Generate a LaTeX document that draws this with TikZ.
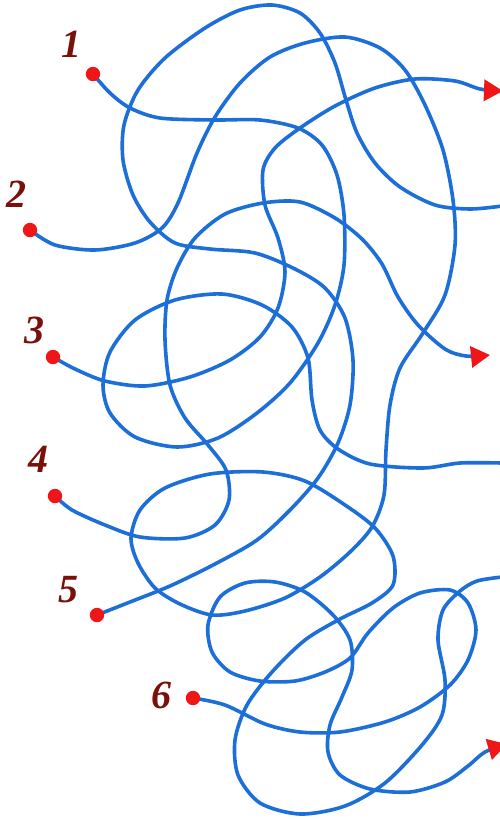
\documentclass[tikz,border=0pt]{standalone}
\usepackage{fontspec}
\newfontfamily\lblfont{Liberation Serif}
\usetikzlibrary{arrows.meta}
\definecolor{strandblue}{RGB}{28,110,216}
\definecolor{dotred}{RGB}{238,22,22}
\definecolor{labelred}{RGB}{122,16,10}
\tikzset{
  strand/.style={strandblue, line width=3.6pt, line cap=round, line join=round},
  tipped/.style={-{Triangle[length=19pt,width=21pt,color=dotred]}},
  lbl/.style={text=labelred, inner sep=0pt, font=\lblfont\fontsize{40}{40}\selectfont\bfseries\itshape},
  dotmark/.style={fill=dotred}
}
\begin{document}
\begin{tikzpicture}[x=1pt,y=-1pt]
\useasboundingbox (0,0) rectangle (500,820);
\clip (0,0) rectangle (500,820);
\fill[white] (0,0) rectangle (500,820);
% start points
\coordinate (d1) at (93,74);
\coordinate (d2) at (30,230);
\coordinate (d3) at (53,357);
\coordinate (d4) at (55,496);
\coordinate (d5) at (97,615);
\coordinate (d6) at (193,698);
% end points
\coordinate (e1) at (502,463);
\coordinate (e2) at (502,577);
\coordinate (e3) at (503,91);
\coordinate (e4) at (490,355);
\coordinate (e5) at (502,206);
\coordinate (e6) at (507,744);
% line 1
\draw[strand] plot[smooth] coordinates {(d1) (110,93) (130,108) (160,118) (213,120) (260,120) (298,128) (322,145) (337,175) (344,215) (344,265) (335,305) (318,343) (290,383) (257,413) (218,438) (177,447) (135,437) (110,413) (103,385) (110,352) (135,320) (175,300) (222,294) (262,305) (292,327) (308,358) (312,400) (320,430) (338,449) (370,464) (423,468) (460,463) (e1)};
% line 2
\draw[strand] plot[smooth] coordinates {(d2) (55,245) (95,250) (135,243) (162,228) (178,203) (197,153) (215,117) (240,83) (270,57) (305,43) (345,37) (380,48) (405,70) (425,105) (443,150) (453,200) (455,245) (445,295) (423,333) (400,368) (390,405) (386,450) (384,495) (372,527) (350,552) (320,577) (285,598) (245,611) (212,615) (180,604) (155,588) (138,563) (131,538) (140,510) (165,488) (210,474) (263,472) (305,481) (345,505) (375,528) (393,556) (393,585) (372,603) (340,619) (305,640) (272,672) (247,705) (235,740) (238,775) (260,803) (300,814) (345,806) (385,783) (422,745) (442,715) (445,680) (438,640) (443,610) (460,591) (477,581) (e2)};
% line 3
\draw[strand,tipped] plot[smooth] coordinates {(d3) (75,369) (105,381) (145,386) (190,377) (230,360) (260,337) (278,308) (285,272) (278,238) (265,205) (263,170) (275,148) (300,128) (335,106) (375,88) (415,79) (455,81) (480,89) (e3)};
% line 4
\draw[strand,tipped] plot[smooth] coordinates {(d4) (72,510) (105,525) (140,537) (185,538) (215,525) (229,500) (226,470) (208,445) (185,418) (170,385) (165,340) (167,300) (177,268) (195,238) (225,214) (263,203) (300,202) (335,218) (362,239) (382,264) (398,297) (418,325) (445,349) (466,356) (e4)};
% line 5
\draw[strand] plot[smooth] coordinates {(d5) (130,602) (170,586) (215,564) (257,540) (290,510) (318,478) (338,443) (350,405) (353,360) (345,318) (325,288) (295,269) (255,253) (210,249) (175,243) (150,222) (133,195) (123,160) (124,125) (138,90) (165,58) (205,28) (240,10) (272,5) (300,13) (320,33) (335,63) (346,100) (357,133) (375,163) (400,187) (435,205) (470,209) (e5)};
% line 6
\draw[strand,tipped] plot[smooth] coordinates {(d6) (225,705) (265,724) (300,732) (340,732) (385,722) (420,707) (450,685) (468,660) (476,630) (468,603) (450,590) (420,593) (393,608) (368,633) (350,658) (325,672) (295,681) (260,681) (230,672) (212,652) (208,625) (220,597) (245,583) (275,582) (305,592) (333,615) (350,640) (352,670) (342,697) (330,725) (328,752) (340,775) (370,789) (410,792) (445,782) (468,766) (485,752) (e6)};
% start dots
\foreach \p in {d1,d2,d3,d4,d5,d6} \fill[dotmark] (\p) circle (7.2);
% labels
\node[lbl] (l1) at (71,44) {1};
\node[lbl] (l2) at (16,194) {2};
\node[lbl] (l3) at (34,330) {3};
\node[lbl] (l4) at (38,459) {4};
\node[lbl] (l5) at (68,590) {5};
\node[lbl] (l6) at (161,695) {6};
\end{tikzpicture}
\end{document}
